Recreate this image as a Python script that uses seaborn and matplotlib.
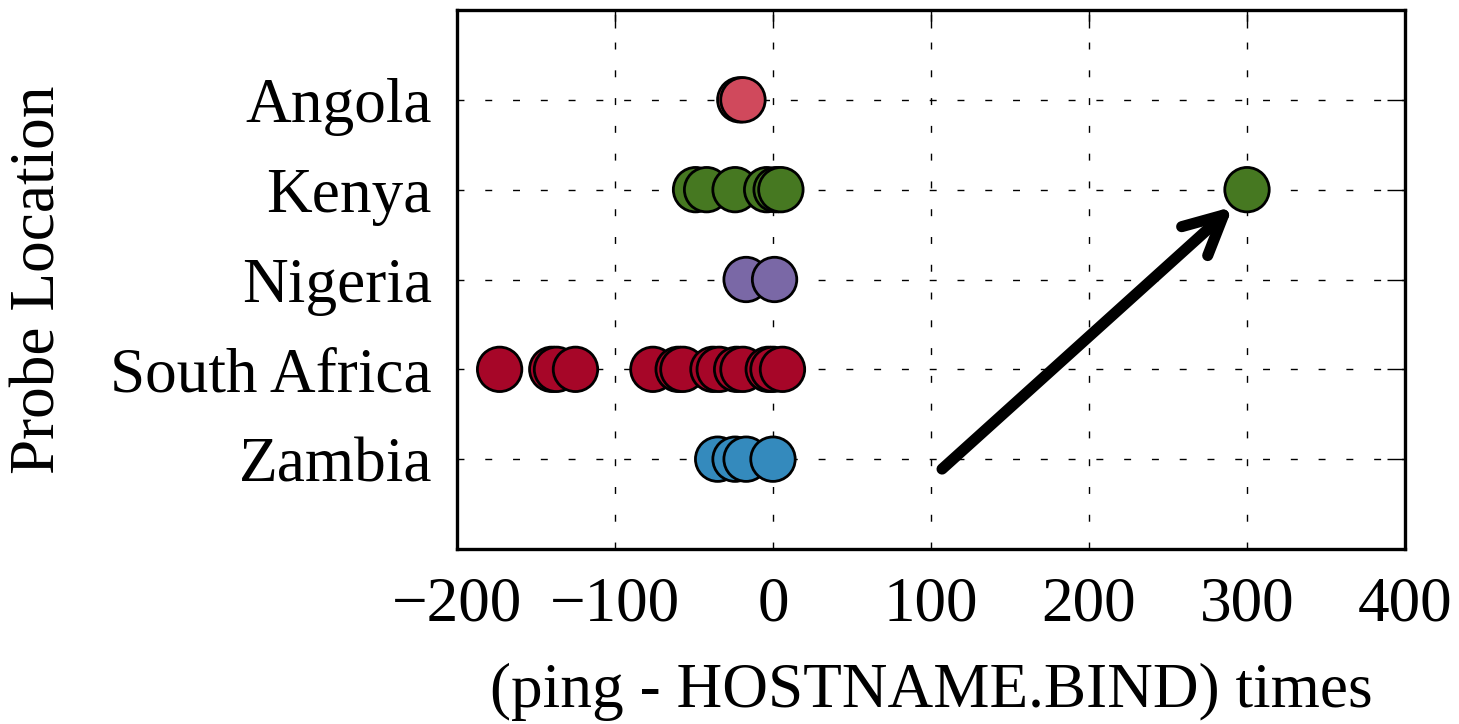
import matplotlib
matplotlib.use("Agg")
import matplotlib.pyplot as plt
import seaborn as sns
import pandas as pd

# ---- data ----
countries = ["Angola", "Kenya", "Nigeria", "South Africa", "Zambia"]
angola = [-21, -19]
kenya = [-49, -42, -24, -4, 2, 5, 300]
nigeria = [-17, 1]
south_africa = [-173, -140, -137, -125, -76, -60, -57, -38, -34, -23, -19, -3, 0, 6]
zambia = [-35, -24, -17, 0]
colors = ["#D0495C", "#467821", "#7A68A6", "#A60628", "#348ABD"]
x_ticks = [-200, -100, 0, 100, 200, 300, 400]
arrow_tail = (107, 4.11)
arrow_head = (291, 1.19)

values = [angola, kenya, nigeria, south_africa, zambia]
df = pd.DataFrame({
    "country": [c for c, v in zip(countries, values) for _ in v],
    "delta": [x for v in values for x in v],
})

sns.set_style("white")
plt.rcParams["font.family"] = ["Liberation Serif", "DejaVu Serif"]
plt.rcParams["axes.unicode_minus"] = True
plt.rcParams["text.color"] = "black"
plt.rcParams["axes.labelcolor"] = "black"
plt.rcParams["xtick.color"] = "black"
plt.rcParams["ytick.color"] = "black"

fig = plt.figure(figsize=(14.59, 7.24), dpi=100)
ax = fig.add_axes([0.3132, 0.2417, 0.6498, 0.7445])

sns.stripplot(data=df, x="delta", y="country", hue="country", order=countries,
              hue_order=countries, palette=colors, jitter=False, size=32,
              linewidth=2.0, edgecolor="black", legend=False, ax=ax, zorder=3)

ax.set_xlim(-200, 400)
ax.set_ylim(len(countries), -1)
ax.set_xticks(x_ticks)
ax.set_yticks(range(len(countries)))
ax.set_yticklabels(countries)

ax.set_axisbelow(True)
ax.grid(True, color="black", linestyle=(0, (5, 15)), linewidth=1.0)
for s in ax.spines.values():
    s.set_visible(True)
    s.set_color("black")
    s.set_linewidth(2.4)

ax.tick_params(axis="both", which="both", direction="in", top=True, right=True,
               length=13, width=1, color="black", labelcolor="black", labelsize=45.5)
ax.tick_params(axis="x", pad=20)
ax.tick_params(axis="y", pad=18)

ax.set_xlabel("(ping - HOSTNAME.BIND) times", fontsize=45.5, labelpad=20, color="black")
ax.set_ylabel("Probe Location", fontsize=45.5, labelpad=30, color="black")

ax.annotate("", xy=arrow_head, xytext=arrow_tail,
            arrowprops=dict(arrowstyle="->,head_length=0.4,head_width=0.2",
                            lw=8, color="black", mutation_scale=70,
                            shrinkA=0, shrinkB=0, capstyle="round",
                            joinstyle="round"), zorder=4)

fig.savefig("out.png", dpi=100)
